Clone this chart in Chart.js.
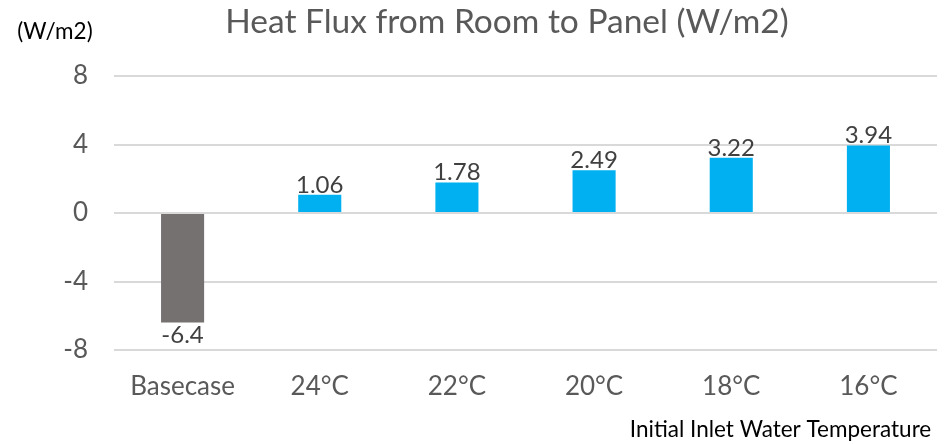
<!DOCTYPE html>
<html>
<head>
<meta charset="utf-8">
<script src="https://cdn.jsdelivr.net/npm/chart.js@4.4.0/dist/chart.umd.min.js"></script>
<style>
  html, body { margin: 0; padding: 0; background: #fff; }
</style>
</head>
<body>
<canvas id="myChart" width="952" height="444"></canvas>
<script>
// chart data
let categories = ["Basecase", "24°C", "22°C", "20°C", "18°C", "16°C"];
let heatFlux = [-6.4, 1.06, 1.78, 2.49, 3.22, 3.94];
let yTicks = [-8, -4, 0, 4, 8];

let chartTitle = "Heat Flux from Room to Panel (W/m2)";
let unitLabel = "(W/m2)";
let xTitle = "Initial Inlet Water Temperature";

let fontName = "Lato, 'Open Sans', sans-serif";

// draws the value labels, the title and the unit label
let textPlugin = {
  id: "texts",
  afterDatasetsDraw(chart) {
    let ctx = chart.ctx;
    let meta = chart.getDatasetMeta(0);
    ctx.save();
    ctx.font = "24px " + fontName;
    ctx.fillStyle = "#404040";
    ctx.textAlign = "center";
    meta.data.forEach(function(bar, i) {
      let v = heatFlux[i];
      if (v >= 0) {
        ctx.textBaseline = "bottom";
        ctx.fillText(String(v), bar.x, bar.y + 2);
      } else {
        ctx.textBaseline = "top";
        ctx.fillText(String(v), bar.x, bar.y + 1);
      }
    });

    ctx.font = "33.5px " + fontName;
    ctx.fillStyle = "#595959";
    ctx.textBaseline = "middle";
    ctx.fillText(chartTitle, 507, 22);

    ctx.font = "22.5px " + fontName;
    ctx.fillStyle = "#000000";
    ctx.fillText(unitLabel, 55, 32);
    ctx.restore();
  }
};

let ctx = document.getElementById("myChart").getContext("2d");
let chart = new Chart(ctx, {
  type: "bar",
  data: {
    labels: categories,
    datasets: [
      {
        data: heatFlux,
        backgroundColor: function(c) {
          return c.dataIndex === 0 ? "#767171" : "#00B0F0";
        },
        borderWidth: 0,
        barPercentage: 0.314,
        categoryPercentage: 1
      }
    ]
  },
  options: {
    responsive: false,
    animation: false,
    layout: { padding: { top: 76, right: 15, left: 0, bottom: 0 } },
    plugins: {
      legend: { display: false },
      tooltip: { enabled: false }
    },
    scales: {
      x: {
        grid: { display: false, drawTicks: false },
        border: { display: false },
        ticks: {
          color: "#595959",
          font: { family: fontName, size: 26 },
          padding: 21
        },
        title: {
          display: true,
          text: xTitle + " ",
          align: "end",
          color: "#000000",
          font: { family: fontName, size: 22.5 },
          padding: { top: 0, bottom: 1 }
        },
        afterFit: function(s) { s.height = 94; }
      },
      y: {
        min: -8,
        max: 8,
        grid: { color: "#D9D9D9", lineWidth: 2, drawTicks: false },
        border: { display: false },
        afterBuildTicks: function(s) {
          s.ticks = yTicks.map(function(v) { return { value: v }; });
        },
        ticks: {
          color: "#595959",
          font: { family: fontName, size: 26 },
          padding: 26
        },
        afterFit: function(s) { s.width = 114; }
      }
    }
  },
  plugins: [textPlugin]
});
</script>
</body>
</html>
